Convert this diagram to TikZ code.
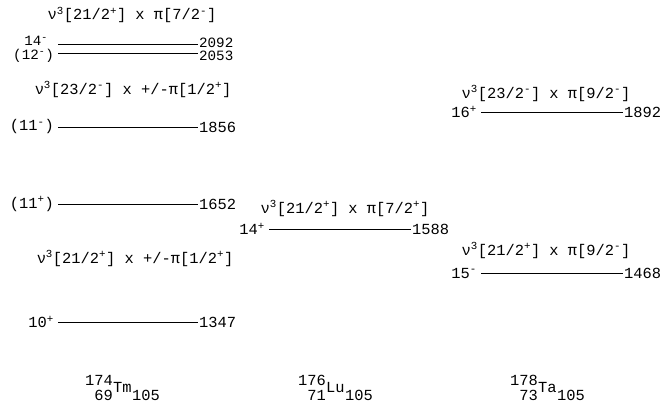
\documentclass[tikz,border=0pt]{standalone}
\usepackage{fontspec}
\setmainfont{Liberation Mono}
\newcommand\up[1]{\textsuperscript{#1}}
\tikzset{
  lev/.style={line width=0.8pt},
  txt/.style={font=\fontsize{15.4}{17}\selectfont, inner sep=0pt},
  tight/.style={font=\fontsize{14.2}{15}\selectfont},
  lft/.style={txt, anchor=east, xshift=-4pt},
  rgt/.style={txt, anchor=west, xshift=1pt},
  cfg/.style={txt, anchor=base},
}
\begin{document}
\begin{tikzpicture}[x=1pt,y=-1pt]
\useasboundingbox (0,0) rectangle (663,404);
% Tm column
\node[cfg] (tmA) at (132,20) {ν\up{3}[21/2\up{+}] x π[7/2\up{-}]};
\coordinate (a1) at (58,44); \coordinate (a2) at (198,44);
\draw[lev] (a1) -- (a2);
\node[lft, tight, yshift=3pt, xshift=-6pt] (la) at (a1) {14\up{-}};
\node[rgt, tight, yshift=1.5pt] (ra) at (a2) {2092};
\coordinate (b1) at (58,53); \coordinate (b2) at (198,53);
\draw[lev] (b1) -- (b2);
\node[lft, tight, yshift=-3pt] (lb) at (b1) {(12\up{-})};
\node[rgt, tight, yshift=-2.5pt] (rb) at (b2) {2053};
\node[cfg] (tmB) at (133,94) {ν\up{3}[23/2\up{-}] x +/-π[1/2\up{+}]};
\coordinate (c1) at (58,127); \coordinate (c2) at (198,127);
\draw[lev] (c1) -- (c2);
\node[lft] (lc) at (c1) {(11\up{-})};
\node[rgt] (rc) at (c2) {1856};
\coordinate (d1) at (58,204); \coordinate (d2) at (198,204);
\draw[lev] (d1) -- (d2);
\node[lft] (ld) at (d1) {(11\up{+})};
\node[rgt] (rd) at (d2) {1652};
\node[cfg] (tmC) at (135,263) {ν\up{3}[21/2\up{+}] x +/-π[1/2\up{+}]};
\coordinate (e1) at (58,322); \coordinate (e2) at (198,322);
\draw[lev] (e1) -- (e2);
\node[lft] (le) at (e1) {10\up{+}};
\node[rgt] (re) at (e2) {1347};
% Lu column
\node[cfg] (luA) at (345,213) {ν\up{3}[21/2\up{+}] x π[7/2\up{+}]};
\coordinate (f1) at (269,229); \coordinate (f2) at (411,229);
\draw[lev] (f1) -- (f2);
\node[lft] (lf) at (f1) {14\up{+}};
\node[rgt] (rf) at (f2) {1588};
% Ta column
\node[cfg] (taA) at (546,98) {ν\up{3}[23/2\up{-}] x π[9/2\up{-}]};
\coordinate (g1) at (481,112); \coordinate (g2) at (623,112);
\draw[lev] (g1) -- (g2);
\node[lft] (lg) at (g1) {16\up{+}};
\node[rgt] (rg) at (g2) {1892};
\node[cfg] (taB) at (546,255) {ν\up{3}[21/2\up{+}] x π[9/2\up{-}]};
\coordinate (h1) at (481,273); \coordinate (h2) at (623,273);
\draw[lev] (h1) -- (h2);
\node[lft] (lh) at (h1) {15\up{-}};
\node[rgt] (rh) at (h2) {1468};
% nuclide labels
\node[txt, anchor=base west] (tm) at (113,392) {Tm};
\node[txt, anchor=base east] (tmM) at (tm.base west) [yshift=7pt] {174};
\node[txt, anchor=base east] (tmZ) at (tm.base west) [yshift=-8pt] {69};
\node[txt, anchor=base west] (tmN) at (tm.base east) [yshift=-8pt] {105};
\node[txt, anchor=base west] (lu) at (326,392) {Lu};
\node[txt, anchor=base east] (luM) at (lu.base west) [yshift=7pt] {176};
\node[txt, anchor=base east] (luZ) at (lu.base west) [yshift=-8pt] {71};
\node[txt, anchor=base west] (luN) at (lu.base east) [yshift=-8pt] {105};
\node[txt, anchor=base west] (ta) at (538,392) {Ta};
\node[txt, anchor=base east] (taM) at (ta.base west) [yshift=7pt] {178};
\node[txt, anchor=base east] (taZ) at (ta.base west) [yshift=-8pt] {73};
\node[txt, anchor=base west] (taN) at (ta.base east) [yshift=-8pt] {105};
\end{tikzpicture}
\end{document}
